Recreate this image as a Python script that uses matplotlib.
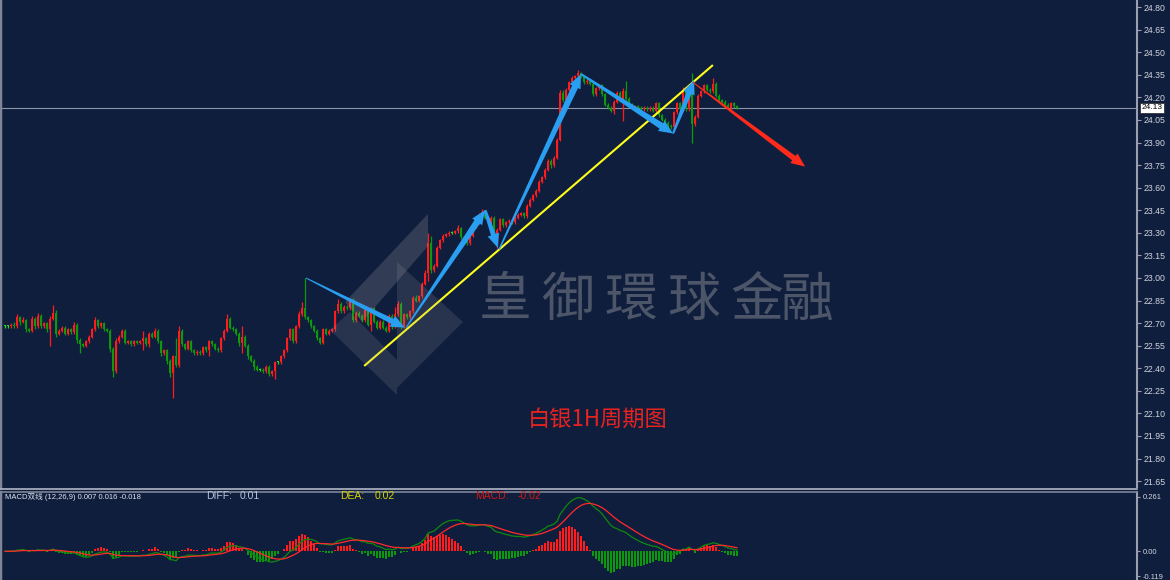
import numpy as np
import matplotlib
matplotlib.use('Agg')
import matplotlib.pyplot as plt
from matplotlib.patches import Polygon
from matplotlib.lines import Line2D
from matplotlib.transforms import IdentityTransform, blended_transform_factory

plt.rcParams['font.family'] = ['Liberation Sans', 'Noto Sans CJK SC', 'DejaVu Sans']

BG = '#101e3e'
UP = '#ff1c1c'
DOWN = '#0c9a0c'
DOJI = '#22dd22'
BLUE = '#2a9ef0'

# 1H silver closes (open = previous close)
closes = [
    22.68, 22.68, 22.69, 22.68, 22.74, 22.71, 22.72, 22.66, 22.65, 22.73,
    22.68, 22.75, 22.68, 22.70, 22.66, 22.73, 22.77, 22.63, 22.65, 22.67,
    22.63, 22.66, 22.64, 22.69, 22.59, 22.56, 22.55, 22.58, 22.61, 22.66,
    22.72, 22.68, 22.70, 22.66, 22.65, 22.53, 22.38, 22.58, 22.61, 22.65,
    22.57, 22.58, 22.56, 22.58, 22.57, 22.58, 22.60, 22.56, 22.63, 22.61,
    22.65, 22.58, 22.50, 22.52, 22.45, 22.37, 22.48, 22.42, 22.65, 22.56,
    22.53, 22.58, 22.52, 22.50, 22.51, 22.50, 22.54, 22.52, 22.58, 22.56,
    22.53, 22.52, 22.60, 22.65, 22.73, 22.67, 22.66, 22.63, 22.57, 22.61,
    22.55, 22.48, 22.45, 22.41, 22.39, 22.39, 22.38, 22.41, 22.36, 22.38,
    22.44, 22.44, 22.48, 22.52, 22.60, 22.66, 22.58, 22.68, 22.76, 22.80,
    22.74, 22.72, 22.68, 22.65, 22.60, 22.57, 22.66, 22.63, 22.65, 22.66,
    22.78, 22.83, 22.78, 22.81, 22.80, 22.85, 22.72, 22.77, 22.75, 22.72,
    22.79, 22.69, 22.80, 22.71, 22.67, 22.71, 22.67, 22.65, 22.75, 22.68,
    22.76, 22.83, 22.68, 22.76, 22.74, 22.78, 22.87, 22.85, 22.88, 22.96,
    23.03, 23.23, 23.05, 23.08, 23.20, 23.25, 23.28, 23.29, 23.30, 23.30,
    23.31, 23.33, 23.27, 23.25, 23.23, 23.28, 23.34, 23.37, 23.42, 23.44,
    23.40, 23.37, 23.40, 23.25, 23.32, 23.39, 23.35, 23.37, 23.38, 23.37,
    23.40, 23.42, 23.43, 23.41, 23.48, 23.52, 23.55, 23.58, 23.64, 23.67,
    23.72, 23.78, 23.75, 23.80, 23.92, 24.23, 24.18, 24.25, 24.30, 24.33,
    24.34, 24.36, 24.34, 24.30, 24.31, 24.29, 24.22, 24.26, 24.28, 24.22,
    24.15, 24.13, 24.11, 24.17, 24.23, 24.18, 24.24, 24.19, 24.15, 24.13,
    24.14, 24.13, 24.12, 24.13, 24.12, 24.13, 24.11, 24.16, 24.08, 24.05,
    24.03, 24.01, 24.00, 24.10, 24.16, 24.12, 24.25, 24.12, 24.26, 24.02,
    24.07, 24.21, 24.24, 24.28, 24.25, 24.24, 24.29, 24.21, 24.18, 24.17,
    24.15, 24.13, 24.16, 24.14, 24.13,
]

# wick lengths above / below the body, in cents
wick_up = [
    1, 1, 1, 2, 2, 1, 2, 1, 1, 2,
    1, 2, 1, 1, 1, 2, 5, 2, 1, 1,
    1, 1, 1, 2, 1, 1, 1, 1, 1, 1,
    2, 1, 1, 1, 1, 1, 1, 2, 1, 1,
    1, 1, 1, 1, 1, 1, 5, 1, 1, 1,
    2, 1, 1, 1, 1, 1, 1, 12, 3, 1,
    1, 1, 1, 1, 1, 1, 1, 1, 1, 1,
    1, 1, 1, 1, 3, 1, 1, 1, 1, 7,
    1, 1, 1, 1, 1, 1, 1, 1, 1, 1,
    1, 1, 1, 1, 1, 1, 1, 1, 2, 4,
    20, 1, 1, 1, 1, 1, 1, 1, 1, 1,
    1, 3, 1, 1, 1, 1, 2, 1, 1, 1,
    1, 1, 1, 1, 1, 1, 1, 1, 1, 1,
    5, 2, 1, 1, 1, 1, 1, 2, 1, 1,
    2, 7, 5, 1, 1, 1, 1, 1, 1, 1,
    1, 2, 1, 1, 1, 1, 1, 1, 1, 2,
    1, 1, 1, 1, 1, 1, 1, 1, 1, 1,
    1, 1, 1, 1, 1, 1, 1, 1, 1, 1,
    1, 1, 1, 1, 1, 2, 2, 1, 1, 1,
    1, 2, 1, 1, 1, 1, 1, 1, 1, 1,
    1, 1, 1, 1, 1, 1, 2, 7, 1, 1,
    1, 1, 1, 1, 1, 1, 1, 1, 1, 1,
    1, 1, 1, 1, 1, 1, 2, 1, 1, 10,
    1, 1, 1, 1, 1, 1, 4, 1, 1, 1,
    1, 1, 1, 1, 1,
]
wick_dn = [
    1, 1, 1, 1, 1, 2, 1, 2, 1, 1,
    2, 1, 1, 1, 2, 11, 1, 2, 1, 1,
    1, 1, 1, 1, 2, 6, 1, 1, 1, 1,
    1, 1, 1, 1, 1, 2, 4, 1, 1, 1,
    1, 1, 1, 1, 1, 1, 6, 1, 2, 1,
    1, 1, 2, 1, 2, 3, 17, 1, 1, 1,
    1, 1, 1, 1, 1, 1, 1, 1, 4, 1,
    1, 1, 1, 1, 1, 1, 1, 1, 2, 7,
    1, 2, 1, 2, 1, 1, 1, 1, 1, 1,
    5, 1, 1, 1, 1, 1, 1, 1, 1, 1,
    1, 1, 1, 1, 1, 1, 1, 1, 1, 1,
    1, 1, 1, 1, 1, 1, 1, 1, 1, 1,
    1, 1, 4, 1, 1, 1, 1, 1, 1, 2,
    1, 1, 2, 1, 1, 1, 1, 1, 1, 1,
    1, 5, 2, 1, 1, 1, 1, 1, 1, 1,
    1, 1, 1, 1, 1, 1, 1, 1, 1, 1,
    1, 1, 1, 2, 5, 1, 1, 1, 1, 1,
    1, 1, 1, 1, 1, 1, 1, 1, 1, 1,
    1, 1, 2, 1, 1, 1, 1, 1, 1, 1,
    1, 1, 1, 1, 1, 1, 1, 1, 1, 1,
    1, 1, 1, 2, 1, 1, 14, 1, 1, 1,
    1, 1, 1, 1, 1, 1, 1, 1, 1, 1,
    1, 2, 1, 1, 1, 1, 1, 1, 1, 12,
    1, 1, 1, 1, 1, 1, 1, 1, 1, 1,
    1, 1, 1, 1, 1,
]

price_ticks = [24.80, 24.65, 24.50, 24.35, 24.20, 24.05, 23.90, 23.75, 23.60,
               23.45, 23.30, 23.15, 23.00, 22.85, 22.70, 22.55, 22.40, 22.25,
               22.10, 21.95, 21.80, 21.65]
last_price = 24.13
macd_ticks = [0.261, 0.00, -0.119]
macd_tick_labels = ['0.261', '0.00', '-0.119']

# drawn objects: (bar index, price)
trend_line = [(120.0, 22.42), (235.7, 24.41)]
blue_arrows = [
    ((100.3, 23.00), (133.3, 22.67), 1.0, 5.5),
    ((133.7, 22.67), (160.0, 23.45), 1.2, 6.5),
    ((160.0, 23.45), (164.3, 23.20), 3.0, 5.0),
    ((164.7, 23.19), (192.0, 24.355), 1.5, 6.5),
    ((192.0, 24.355), (222.7, 23.96), 2.0, 6.5),
    ((222.7, 23.96), (229.7, 24.315), 2.0, 5.5),
]
red_arrow = ((229.3, 24.30), (266.7, 23.74), 1.0, 5.5)

W, H = 1170, 580
fig = plt.figure(figsize=(11.7, 5.8), dpi=100, facecolor=BG)


def fy(py):
    return 1 - py / H


ax = fig.add_axes([0, fy(487), 1137 / W, 487 / H], facecolor=BG)
ax2 = fig.add_axes([0, 0, 1137 / W, 88 / H], facecolor=BG)

c = np.array(closes)
o = np.r_[c[0], c[:-1]]
hi = np.maximum(o, c) + np.array(wick_up) / 100
lo = np.minimum(o, c) - np.array(wick_dn) / 100
idx = np.arange(len(c))
cols = np.where(np.abs(c - o) < 0.006, DOJI, np.where(c > o, UP, DOWN))

xlim = (-5 / 3, 1132 / 3)
for a in (ax, ax2):
    a.set_xlim(*xlim)
    a.set_xticks([])
    a.yaxis.tick_right()
    for s in ('top', 'bottom'):
        a.spines[s].set_visible(False)
    a.spines['right'].set_color('#9aa0b0')
    a.spines['right'].set_linewidth(1.5)
    a.spines['left'].set_color('#7d8596')
    a.spines['left'].set_linewidth(2.5)

ax.set_ylim(21.611, 24.847)
ax.set_yticks(price_ticks)
ax.set_yticklabels(['%.2f' % t for t in price_ticks])
ax.tick_params(axis='y', colors='#9aa0b0', labelcolor='#d0d4de', labelsize=6.3,
               length=3, width=0.8, pad=2)

ax.axhline(last_price, color='#8d95a8', lw=0.8, zorder=1)

ax.vlines(idx, lo, hi, colors=cols, lw=0.9, zorder=3)
ax.bar(idx, np.maximum(np.abs(c - o), 0.007), bottom=np.minimum(o, c),
       width=0.75, color=cols, linewidth=0, zorder=3)

tr = blended_transform_factory(ax.transAxes, ax.transData)
ax.text(1.004, last_price, '%.2f' % last_price, transform=tr, fontsize=6,
        va='center', ha='left', color='black', clip_on=False, zorder=10,
        bbox=dict(boxstyle='square,pad=0.2', fc='white', ec='#333333', lw=0.6))

# watermark logo
logo = [
    ([(345, 302), (428, 214), (428, 246), (362, 322)], 0.24),
    ([(397, 262), (463, 322), (397, 388)], 0.17),
    ([(330, 330), (350, 312), (397, 360), (397, 395)], 0.17),
]
for pts, al in logo:
    fig.add_artist(Polygon([(x / W, fy(y)) for x, y in pts], closed=True,
                           transform=fig.transFigure, fc='#a0a0a0', ec='none',
                           alpha=al, zorder=2))
wm_chars = '皇御環球金融'
wm_x = [505, 568, 631, 694, 757, 807]
for ch, x in zip(wm_chars, wm_x):
    fig.text(x / W, fy(300), ch, fontsize=38, color='#4d5568', ha='center',
             va='center', weight='medium',
             family=['Noto Sans CJK TC', 'DejaVu Sans'], zorder=2)

fig.text(598 / W, fy(419), '白银1H周期图', fontsize=16, color='#e8231f',
         ha='center', va='center', family=['Noto Sans CJK SC', 'DejaVu Sans'])

ax.plot([p[0] for p in trend_line], [p[1] for p in trend_line],
        color='#ffff1a', lw=1.5, zorder=5)


def taper_arrow(p0, p1, w0, w1, color, head_w=12, head_l=14):
    (x0, y0), (x1, y1) = ax.transData.transform([p0, p1])
    d = np.array([x1 - x0, y1 - y0])
    u = d / np.hypot(*d)
    n = np.array([-u[1], u[0]])
    a = np.array([x0, y0])
    b = np.array([x1, y1])
    base = b - u * head_l
    pts = [a + n * w0 / 2, base + n * w1 / 2, base + n * head_w / 2, b,
           base - n * head_w / 2, base - n * w1 / 2, a - n * w0 / 2]
    fig.add_artist(Polygon(pts, closed=True, transform=IdentityTransform(),
                           fc=color, ec='none', zorder=6))


for p0, p1, w0, w1 in blue_arrows:
    taper_arrow(p0, p1, w0, w1, BLUE)
taper_arrow(red_arrow[0], red_arrow[1], red_arrow[2], red_arrow[3], '#ff2a1a')


# MACD (12, 26, 9)
def ema(x, n):
    out = np.empty_like(x)
    k = 2 / (n + 1)
    out[0] = x[0]
    for i in range(1, len(x)):
        out[i] = out[i - 1] + k * (x[i] - out[i - 1])
    return out


diff = ema(c, 12) - ema(c, 26)
dea = ema(diff, 9)
hist = 2 * (diff - dea)

ax2.set_ylim(-0.138, 0.285)
ax2.bar(idx, hist, width=0.75, color=np.where(hist >= 0, '#ff1c1c', '#0c9a0c'),
        linewidth=0)
ax2.plot(idx, diff, color='#0d8a0d', lw=0.9)
ax2.plot(idx, dea, color='#ff2a2a', lw=0.9)
ax2.set_yticks(macd_ticks)
ax2.set_yticklabels(macd_tick_labels)
ax2.tick_params(axis='y', colors='#9aa0b0', labelcolor='#d0d4de', labelsize=5.5,
                length=2, width=0.8, pad=2)

fig.text(5 / W, fy(497), 'MACD双线 (12,26,9) %.3f %.3f %.3f' % (0.007, 0.016, -0.018),
         fontsize=5.5, color='#e0e4ee', va='center', ha='left')
hdr = [(206, 'DIFF:', '#b8c4dc'), (240, '0.01', '#b8c4dc'),
       (340, 'DEA:', '#d4d400'), (375, '0.02', '#d4d400'),
       (475, 'MACD:', '#d01818'), (518, '-0.02', '#d01818')]
for x, s, col in hdr:
    fig.text(x / W, fy(496), s, fontsize=7.5, color=col, va='center', ha='left')

for py, col in ((489, '#b0b6c4'), (492, '#7d8596')):
    fig.add_artist(Line2D([0, 1137 / W], [fy(py), fy(py)], color=col, lw=1.2,
                          transform=fig.transFigure))

fig.savefig('out.png', dpi=100, facecolor=BG)
